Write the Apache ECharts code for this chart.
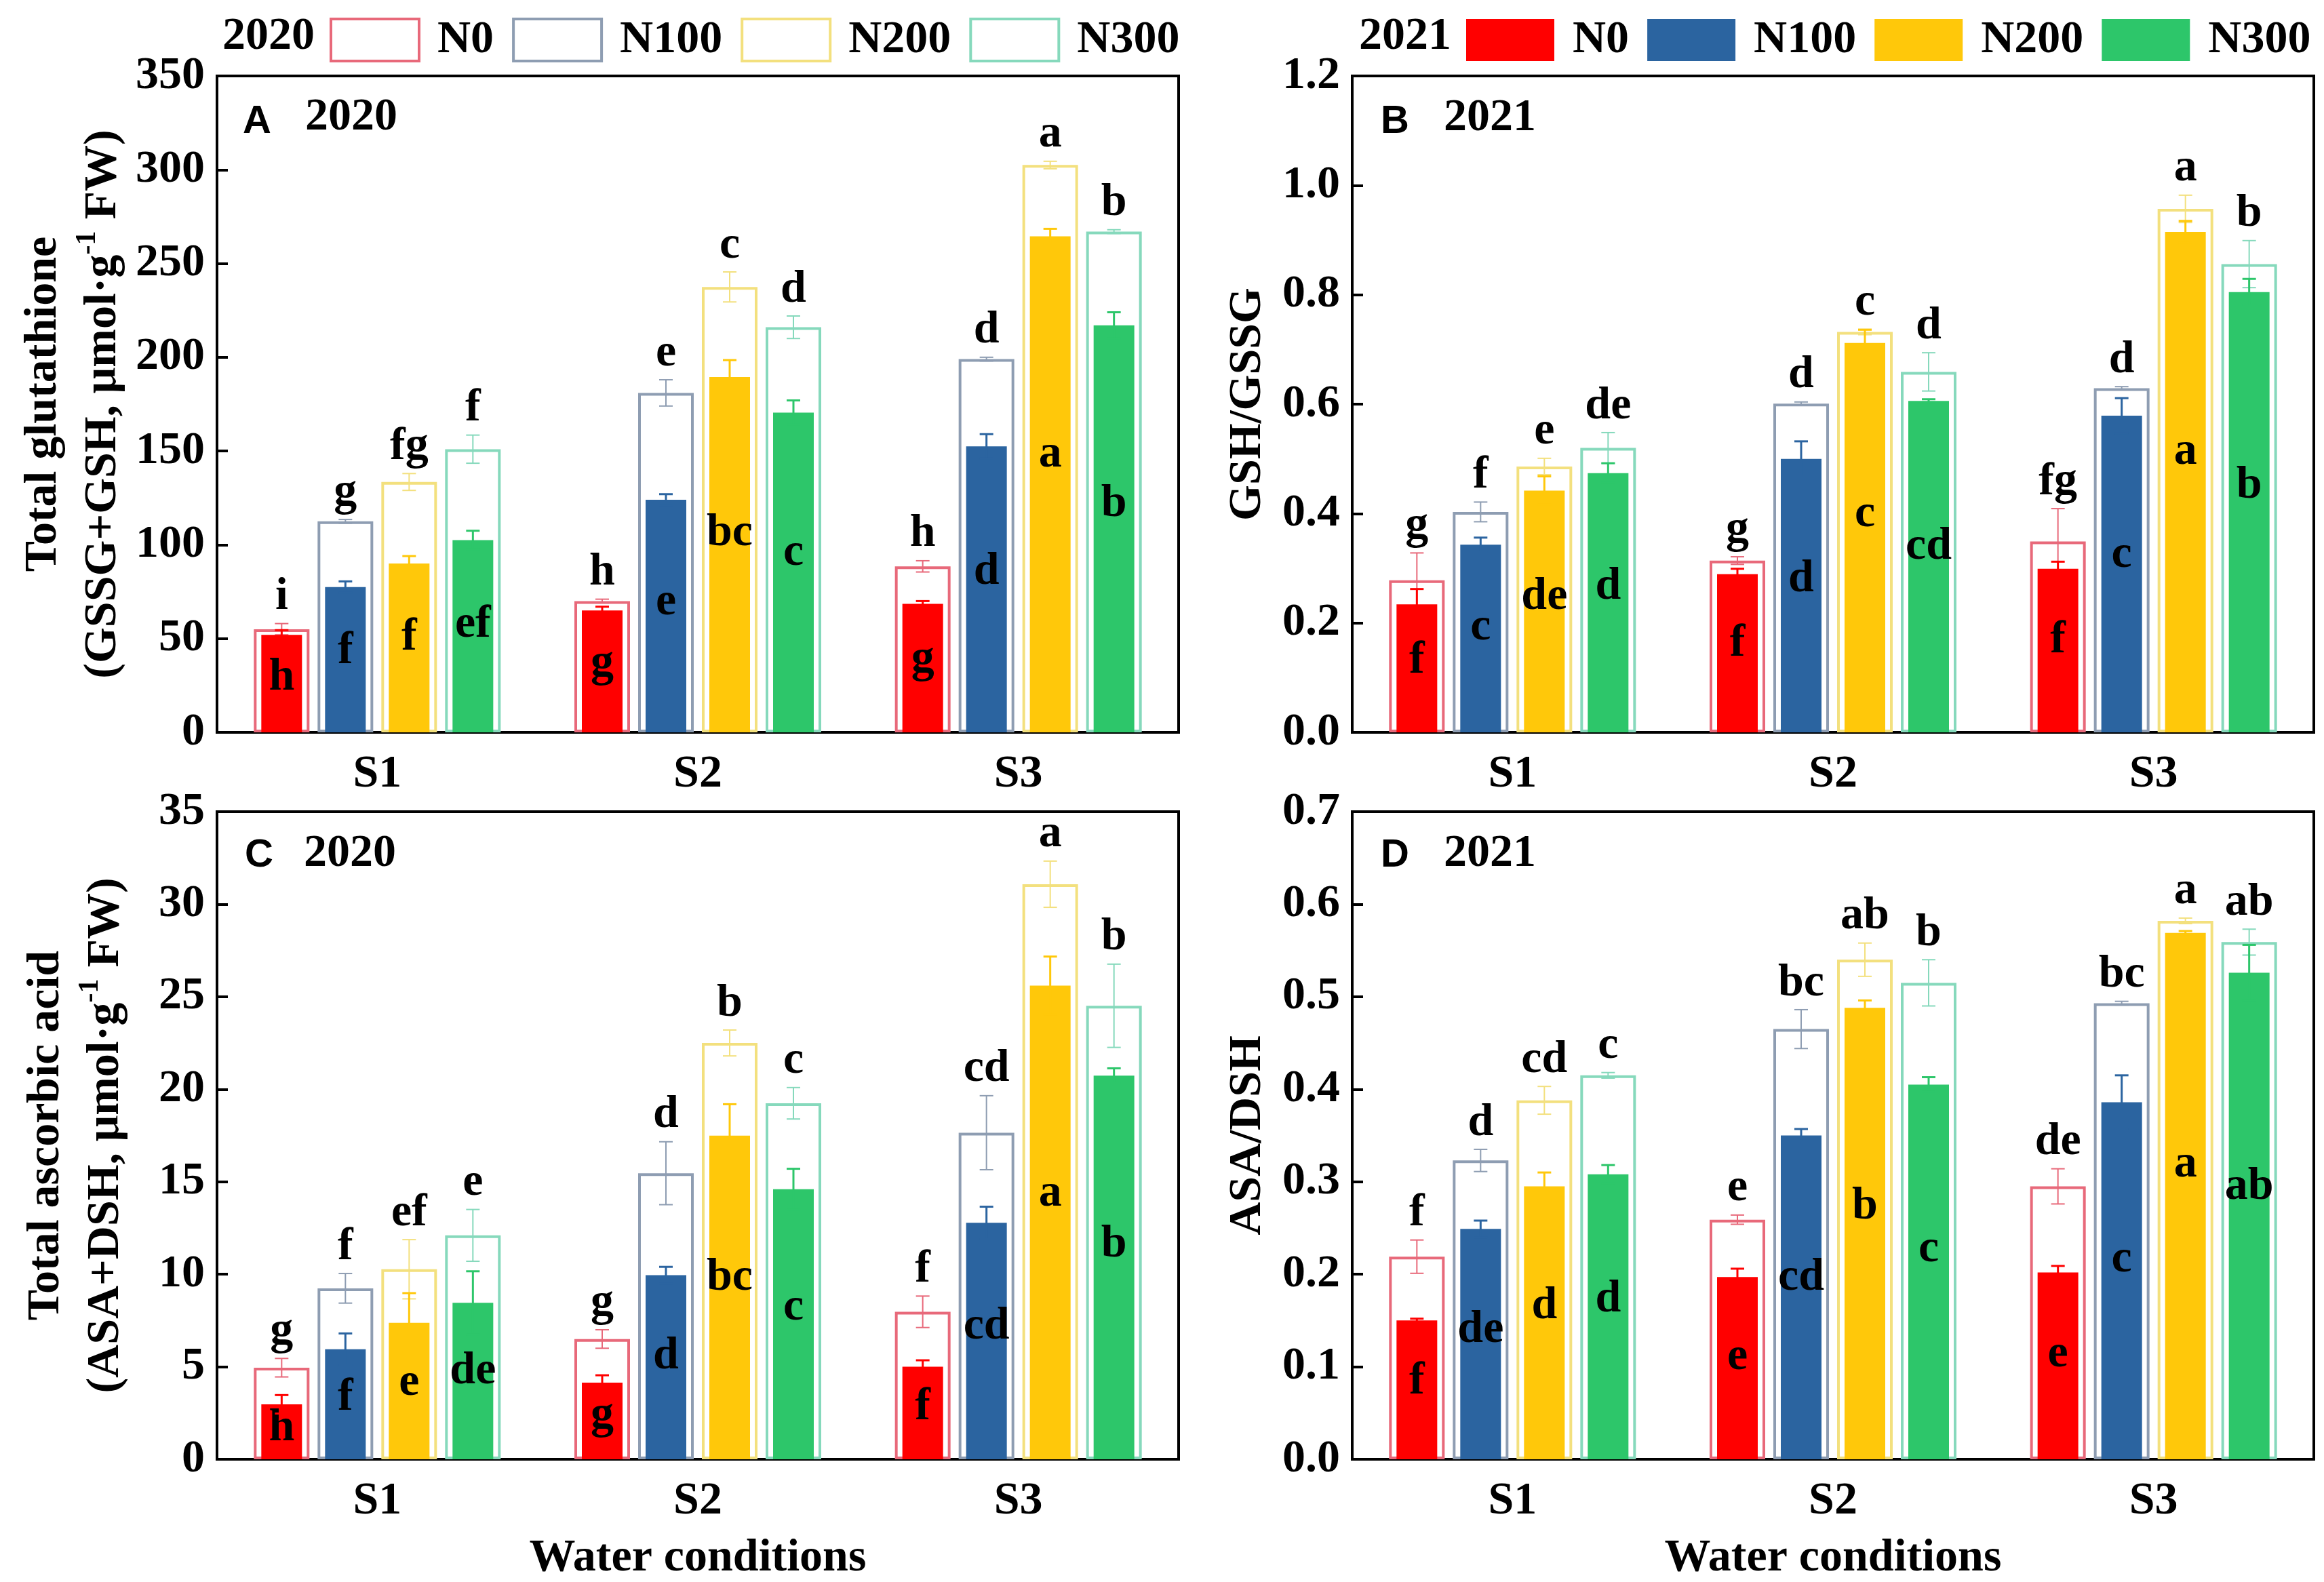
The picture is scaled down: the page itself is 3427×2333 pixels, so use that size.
<!DOCTYPE html>
<html><head><meta charset="utf-8">
<script src="https://cdn.jsdelivr.net/npm/echarts@6/dist/echarts.min.js"></script>
<style>html,body{margin:0;padding:0;background:#fff}#c{width:3427px;height:2333px}</style>
</head><body><div id="c"></div>
<script>
// ---------- data ----------
const categories = ['S1', 'S2', 'S3'];
const levels = ['N0', 'N100', 'N200', 'N300'];
// rows: N0, N100, N200, N300 ; columns: S1, S2, S3

// Panel A – Total glutathione
const aOutline = [[55, 70, 88.5], [112.5, 181, 199], [133.5, 237.5, 302.5], [151, 216, 267]];
const aOutlineErr = [[3, 1, 3], [1, 7, 1], [4.5, 8, 2], [7.5, 6, 1]];
const aFilled = [[52, 65, 68.5], [77.5, 124, 152.5], [90, 189.5, 264.5], [102.5, 170.5, 217]];
const aFilledErr = [[2.5, 2, 1.5], [3, 3, 6.5], [4, 9, 4], [5, 6.5, 7]];
const aTopLetters = [['i', 'h', 'h'], ['g', 'e', 'd'], ['fg', 'c', 'a'], ['f', 'd', 'b']];
const aInLetters = [['h', 'g', 'g'], ['f', 'e', 'd'], ['f', 'bc', 'a'], ['ef', 'c', 'b']];

// Panel B – GSH/GSSG
const bOutline = [[0.278, 0.314, 0.349], [0.403, 0.601, 0.629], [0.486, 0.732, 0.957], [0.52, 0.659, 0.856]];
const bOutlineErr = [[0.05, 0.007, 0.06], [0.018, 0.003, 0.003], [0.015, 0.005, 0.025], [0.028, 0.035, 0.043]];
const bFilled = [[0.234, 0.289, 0.299], [0.343, 0.5, 0.579], [0.442, 0.712, 0.915], [0.474, 0.606, 0.805]];
const bFilledErr = [[0.028, 0.01, 0.013], [0.013, 0.032, 0.032], [0.026, 0.024, 0.02], [0.018, 0.003, 0.024]];
const bTopLetters = [['g', 'g', 'fg'], ['f', 'd', 'd'], ['e', 'c', 'a'], ['de', 'd', 'b']];
const bInLetters = [['f', 'f', 'f'], ['c', 'd', 'c'], ['de', 'c', 'a'], ['d', 'cd', 'b']];

// Panel C – Total ascorbic acid
const cOutline = [[4.95, 6.5, 7.97], [9.24, 15.46, 17.65], [10.27, 22.5, 31.08], [12.1, 19.24, 24.51]];
const cOutlineErr = [[0.5, 0.5, 0.85], [0.8, 1.7, 2], [1.6, 0.7, 1.25], [1.4, 0.85, 2.25]];
const cFilled = [[2.97, 4.14, 5.0], [5.95, 9.95, 12.78], [7.38, 17.49, 25.6], [8.46, 14.6, 20.73]];
const cFilledErr = [[0.5, 0.4, 0.35], [0.85, 0.45, 0.87], [1.6, 1.7, 1.57], [1.7, 1.1, 0.4]];
const cTopLetters = [['g', 'g', 'f'], ['f', 'd', 'cd'], ['ef', 'b', 'a'], ['e', 'c', 'b']];
const cInLetters = [['h', 'g', 'f'], ['f', 'd', 'cd'], ['e', 'bc', 'a'], ['de', 'c', 'b']];

// Panel D – ASA/DSH
const dOutline = [[0.219, 0.259, 0.295], [0.323, 0.465, 0.493], [0.388, 0.54, 0.582], [0.415, 0.515, 0.559]];
const dOutlineErr = [[0.018, 0.005, 0.019], [0.012, 0.021, 0.002], [0.015, 0.018, 0.003], [0.003, 0.025, 0.014]];
const dFilled = [[0.15, 0.197, 0.202], [0.249, 0.35, 0.386], [0.295, 0.488, 0.569], [0.308, 0.405, 0.526]];
const dFilledErr = [[0.002, 0.009, 0.007], [0.009, 0.007, 0.029], [0.015, 0.008, 0.002], [0.01, 0.008, 0.03]];
const dTopLetters = [['f', 'e', 'de'], ['d', 'bc', 'bc'], ['cd', 'ab', 'a'], ['c', 'b', 'ab']];
const dInLetters = [['f', 'e', 'e'], ['de', 'cd', 'c'], ['d', 'b', 'a'], ['d', 'c', 'ab']];

const yMax = [350, 1.2, 35, 0.7];
const yInterval = [50, 0.2, 5, 0.1];
const yTicksDecimals = [0, 1, 0, 1];
const yNames = [
  '{t|Total glutathione}\n{t|(GSSG+GSH, μmol·g}{s|-1}{t| FW)}',
  '{t|GSH/GSSG}',
  '{t|Total ascorbic acid}\n{t|(ASA+DSH, μmol·g}{s|-1}{t| FW)}',
  '{t|ASA/DSH}'
];
const xName = 'Water conditions';
const panelTags = ['A', 'B', 'C', 'D'];
const panelYears = ['2020', '2021', '2020', '2021'];
const legendYears = ['2020', '2021'];

// ---------- style / layout ----------
const outlineColors = ['#E8697A', '#8E9DB2', '#F3E07E', '#86D9BC'];
const fillColors = ['#FF0000', '#2B64A0', '#FFC80A', '#2DC66A'];
const SERIF = '"Liberation Serif", "Times New Roman", serif';
const SANS = '"Liberation Sans", Arial, sans-serif';
const FS = 68;
const HOLLOW_W = 82, FILL_W = 60, STEP = 94;
const grids = [
  { left: 320, top: 112, width: 1418, height: 968 },
  { left: 1994, top: 112, width: 1418, height: 968 },
  { left: 320, top: 1197, width: 1418, height: 969 },
  { left: 1994, top: 1197, width: 1418, height: 969 }
];
const nameGaps = [120, 110, 120, 110];
const tagPos = [[358, 180, 450, 173], [2036, 180, 2129, 174], [361, 1262, 448, 1259], [2036, 1262, 2129, 1259]];

const panels = [
  { o: aOutline, oe: aOutlineErr, f: aFilled, fe: aFilledErr, tl: aTopLetters, il: aInLetters },
  { o: bOutline, oe: bOutlineErr, f: bFilled, fe: bFilledErr, tl: bTopLetters, il: bInLetters },
  { o: cOutline, oe: cOutlineErr, f: cFilled, fe: cFilledErr, tl: cTopLetters, il: cInLetters },
  { o: dOutline, oe: dOutlineErr, f: dFilled, fe: dFilledErr, tl: dTopLetters, il: dInLetters }
];

function errRender(colors, letters, lw) {
  return function (params, api) {
    const c = api.value(0), v = api.value(1), e = api.value(2), l = api.value(3);
    const base = api.coord([c, v]);
    const x = base[0] + (l - 1.5) * STEP;
    const yT = api.coord([c, v + e])[1];
    const yB = api.coord([c, Math.max(0, v - e)])[1];
    const st = { stroke: colors[l], lineWidth: lw };
    const cap = 10;
    const children = [
      { type: 'line', shape: { x1: x, y1: yT, x2: x, y2: yB }, style: st },
      { type: 'line', shape: { x1: x - cap, y1: yT, x2: x + cap, y2: yT }, style: st },
      { type: 'line', shape: { x1: x - cap, y1: yB, x2: x + cap, y2: yB }, style: st }
    ];
    if (letters) {
      const yt = api.coord([c, api.value(4)])[1];
      children.push({
        type: 'text', x: x, y: yt - 5, z2: 10,
        style: {
          text: letters[l][c], fill: '#000', font: 'bold ' + FS + 'px ' + SERIF,
          align: 'center', verticalAlign: 'bottom', textAlign: 'center', textVerticalAlign: 'bottom'
        }
      });
    }
    return { type: 'group', children: children };
  };
}

const option = {
  backgroundColor: '#fff',
  animation: false,
  grid: grids.map(g => Object.assign({ show: true, borderColor: '#000', borderWidth: 4, backgroundColor: 'transparent' }, g)),
  xAxis: [],
  yAxis: [],
  series: [],
  legend: [
    {
      left: 486, top: 25, padding: 0, itemWidth: 130, itemHeight: 62, itemGap: 27, selectedMode: false,
      textStyle: { fontFamily: SERIF, fontWeight: 'bold', fontSize: FS, color: '#000', padding: [0, 0, 0, 22] },
      data: levels.map((n, l) => ({ name: n, icon: 'rect', itemStyle: { color: '#fff', borderColor: outlineColors[l], borderWidth: 4 } }))
    },
    {
      left: 2162, top: 25, padding: 0, itemWidth: 130, itemHeight: 62, itemGap: 27, selectedMode: false,
      textStyle: { fontFamily: SERIF, fontWeight: 'bold', fontSize: FS, color: '#000', padding: [0, 0, 0, 22] },
      data: levels.map((n, l) => ({ name: n, icon: 'rect', itemStyle: { color: fillColors[l], borderWidth: 0 } }))
    }
  ],
  graphic: []
};

const txt = (x, y, text, font) => ({
  type: 'text', x: x, y: y,
  style: { text: text, font: font, fill: '#000', verticalAlign: 'middle', textVerticalAlign: 'middle', align: 'left', textAlign: 'left' }
});
option.graphic.push(txt(328, 54, legendYears[0], 'bold ' + FS + 'px ' + SERIF));
option.graphic.push(txt(2004, 54, legendYears[1], 'bold ' + FS + 'px ' + SERIF));

panels.forEach((p, i) => {
  const tp = tagPos[i];
  option.graphic.push(txt(tp[0], tp[1], panelTags[i], 'bold 58px ' + SANS));
  option.graphic.push(txt(tp[2], tp[3], panelYears[i], 'bold ' + FS + 'px ' + SERIF));

  const labelStyle = { fontFamily: SERIF, fontWeight: 'bold', fontSize: FS, color: '#000' };
  const bottomRow = i >= 2;
  option.xAxis.push({
    type: 'category', gridIndex: i, data: categories,
    axisLine: { lineStyle: { color: '#000', width: 4 } },
    axisTick: { show: false },
    axisLabel: Object.assign({ margin: 28 }, labelStyle),
    splitLine: { show: false },
    name: bottomRow ? xName : '', nameLocation: 'middle', nameGap: 112,
    nameTextStyle: labelStyle
  });
  option.xAxis.push({ type: 'category', gridIndex: i, data: categories, show: false });
  const dec = yTicksDecimals[i];
  option.yAxis.push({
    type: 'value', gridIndex: i, min: 0, max: yMax[i], interval: yInterval[i],
    axisLine: { show: true, lineStyle: { color: '#000', width: 4 } },
    axisTick: { show: true, inside: true, length: 16, lineStyle: { color: '#000', width: 4 } },
    axisLabel: Object.assign({ margin: 18, formatter: v => v.toFixed(dec) }, labelStyle),
    splitLine: { show: false },
    name: yNames[i], nameLocation: 'middle', nameGap: nameGaps[i],
    nameTextStyle: {
      fontFamily: SERIF, fontWeight: 'bold', fontSize: FS, color: '#000', lineHeight: 88,
      rich: {
        t: { fontFamily: SERIF, fontWeight: 'bold', fontSize: FS, color: '#000', lineHeight: 88 },
        s: { fontFamily: SERIF, fontWeight: 'bold', fontSize: 42, color: '#000', lineHeight: 88, verticalAlign: 'top', padding: [0, 0, 30, 0] }
      }
    }
  });

  levels.forEach((n, l) => {
    option.series.push({
      type: 'bar', name: n, xAxisIndex: 2 * i, yAxisIndex: i, data: p.o[l],
      barWidth: HOLLOW_W, barGap: (100 * (STEP - HOLLOW_W) / HOLLOW_W) + '%', z: 1, silent: true,
      itemStyle: { color: '#fff', borderColor: outlineColors[l], borderWidth: 4 }
    });
  });
  levels.forEach((n, l) => {
    option.series.push({
      type: 'bar', name: n, xAxisIndex: 2 * i + 1, yAxisIndex: i, data: p.f[l],
      barWidth: FILL_W, barGap: (100 * (STEP - FILL_W) / FILL_W) + '%', z: 3, silent: true,
      itemStyle: { color: fillColors[l] },
      label: {
        show: true, position: ['50%', '44%'], align: 'center', verticalAlign: 'middle',
        formatter: q => p.il[l][q.dataIndex],
        fontFamily: SERIF, fontWeight: 'bold', fontSize: FS, color: '#000'
      }
    });
  });
  const hData = [], fData = [];
  levels.forEach((n, l) => {
    categories.forEach((c, ci) => {
      const top = Math.max(p.o[l][ci] + p.oe[l][ci], p.f[l][ci] + p.fe[l][ci]);
      hData.push([ci, p.o[l][ci], p.oe[l][ci], l, top]);
      fData.push([ci, p.f[l][ci], p.fe[l][ci], l]);
    });
  });
  option.series.push({
    type: 'custom', xAxisIndex: 2 * i, yAxisIndex: i, z: 2, silent: true,
    renderItem: errRender(outlineColors, p.tl, 2), data: hData
  });
  option.series.push({
    type: 'custom', xAxisIndex: 2 * i + 1, yAxisIndex: i, z: 4, silent: true,
    renderItem: errRender(fillColors, null, 3), data: fData
  });
});

const chart = echarts.init(document.getElementById('c'), null, { renderer: 'canvas' });
chart.setOption(option);
</script>
</body></html>
